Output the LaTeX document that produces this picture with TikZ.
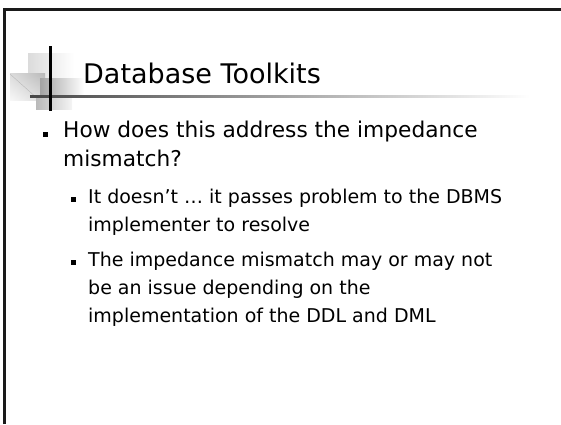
\documentclass[tikz,border=0pt]{standalone}
\usepackage{fontspec}
\setmainfont{DejaVu Sans}
\usepackage{xcolor}
\usetikzlibrary{positioning, shadings}
\definecolor{framegray}{HTML}{1A1A1A}

\begin{document}
\begin{tikzpicture}[x=1pt, y=-1pt,
  ttl/.style={anchor=base west, inner sep=0pt, font=\fontsize{27}{32}\selectfont},
  lvone/.style={anchor=base west, inner sep=0pt, align=left,
    font=\fontsize{21.7}{29}\selectfont},
  lvtwo/.style={anchor=base west, inner sep=0pt, align=left,
    font=\fontsize{19}{28}\selectfont},
  bulone/.style={rectangle, fill=black, inner sep=0pt, minimum size=5.5pt},
  bultwo/.style={rectangle, fill=black, inner sep=0pt, minimum size=4.5pt}
]
\useasboundingbox (0,0) rectangle (561,424);

%% slide frame (top and left only)
\draw[framegray, line width=3pt] (4.7,424) -- (4.7,9.5) -- (561,9.5);

%% title ornament
\shade[left color=gray!28, right color=white] (28,53) rectangle (74,79);
\shade[upper right=gray!55, lower left=gray!6, upper left=gray!28, lower right=gray!28]
  (10,73) rectangle (45,100);
\draw[gray!55, thin] (10,74) -- (38,99);
\shade[left color=gray!72, right color=white] (40,78) rectangle (84,96);
\shade[left color=gray!55, right color=gray!8] (36,96) rectangle (72,109);
\shade[left color=black!72, middle color=black!45, right color=white]
  (30,95) rectangle (530,97);
\draw[line width=3pt, black] (50,46) -- (50,111);

%% title
\node[ttl] (title) at (83,83) {Database Toolkits};

%% level 1 (base = last line)
\node[lvone] (q)  at (63,166) {How does this address the impedance\\mismatch?};
\node[bulone] (bq) at (45.5,134.5) {};

%% level 2
\node[lvtwo] (ans)  at (88,231) {It doesn’t … it passes problem to the DBMS\\implementer to resolve};
\node[bultwo] (bans) at (73.5,199.5) {};
\node[lvtwo] (dep)  at (88,322) {The impedance mismatch may or may not\\be an issue depending on the\\implementation of the DDL and DML};
\node[bultwo] (bdep) at (73.5,262.5) {};

\end{tikzpicture}
\end{document}
